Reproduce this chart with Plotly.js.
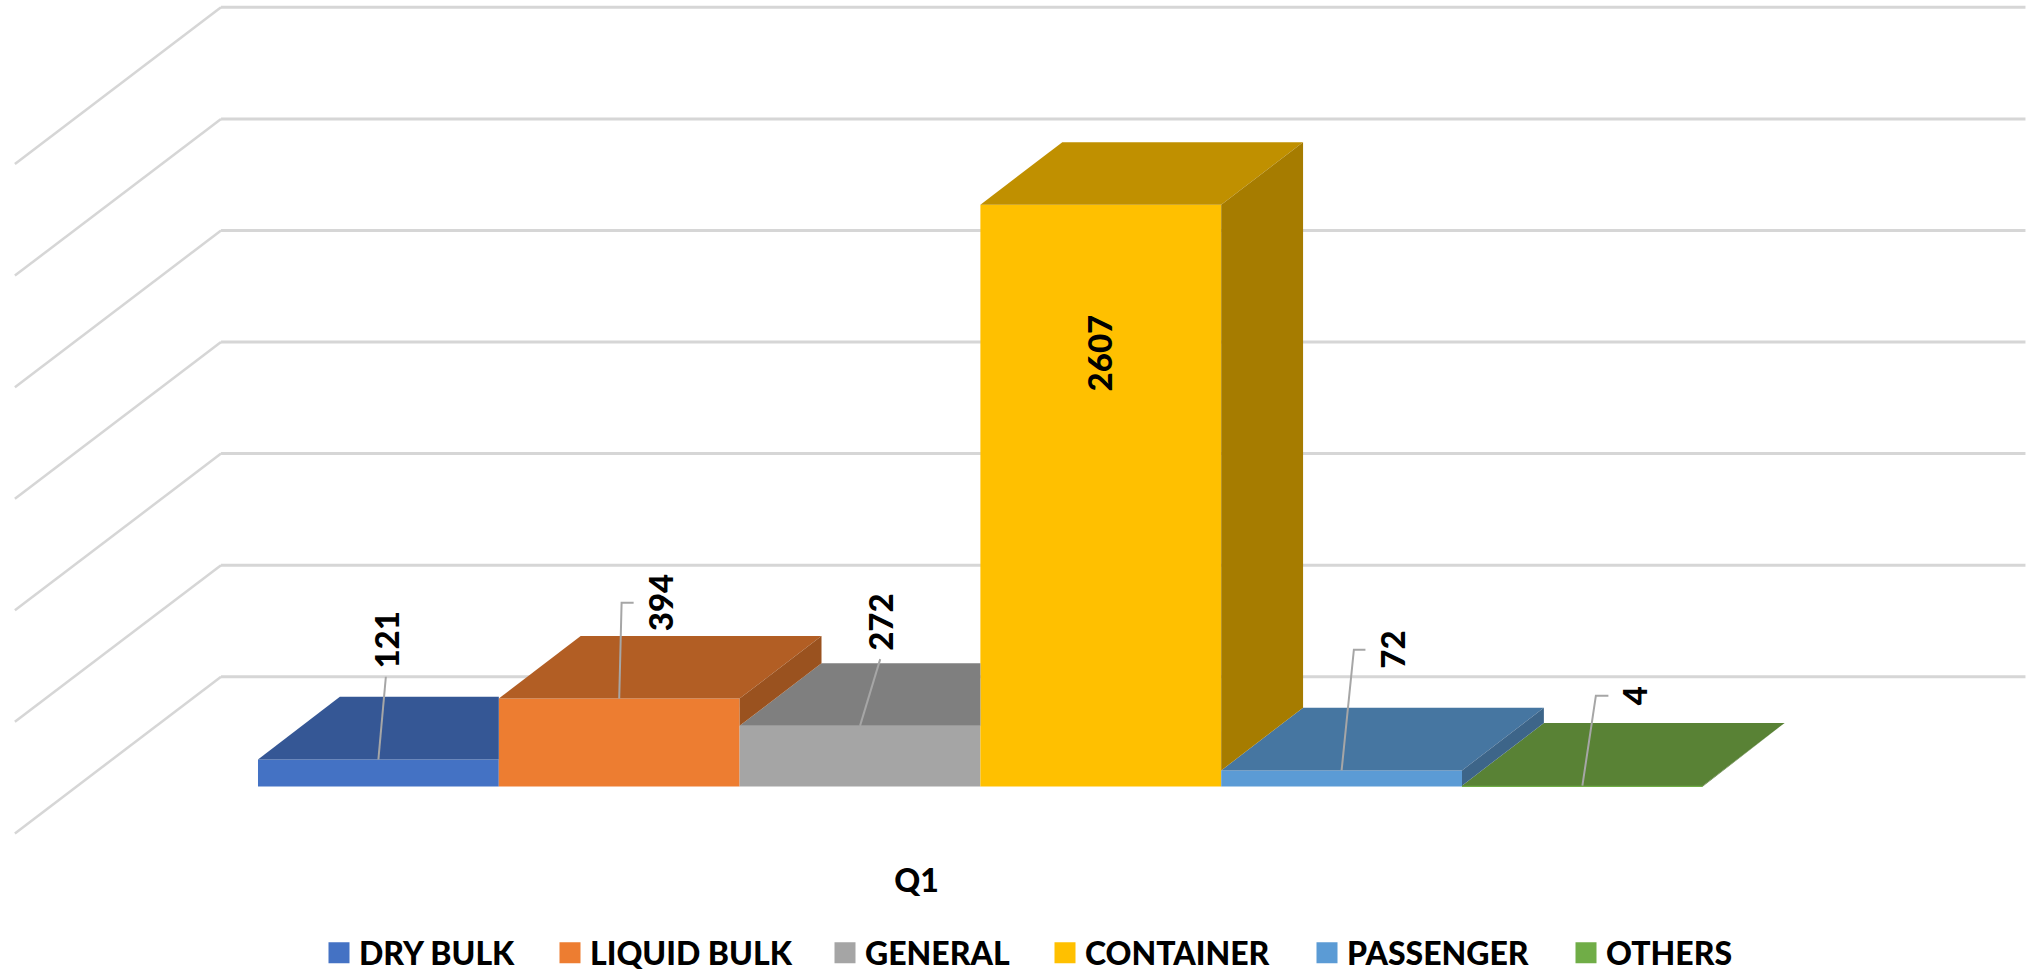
<!DOCTYPE html>
<html>
<head>
<meta charset="utf-8">
<script src="https://cdn.plot.ly/plotly-3.0.1.min.js"></script>
<style>html,body{margin:0;padding:0;background:#fff;overflow:hidden;height:971px}</style>
</head>
<body>
<div id="chart" style="width:2028px;height:1011px"></div>
<script>
// ---- data ----
const seriesNames = ['DRY BULK', 'LIQUID BULK', 'GENERAL', 'CONTAINER', 'PASSENGER', 'OTHERS'];
const seriesValues = [121, 394, 272, 2607, 72, 4];
const categoryLabels = ['Q1'];
const gridTicks = [0, 500, 1000, 1500, 2000, 2500, 3000];

// ---- styles ----
const frontColors = ['#4472C4', '#ED7D31', '#A5A5A5', '#FFC000', '#5B9BD5', '#70AD47'];
const topColors   = ['#355795', '#B25E24', '#7F7F7F', '#C09000', '#4676A1', '#598235'];
const sideColors  = ['#2E4C83', '#9A521F', '#6E6E6E', '#A67C00', '#3D6589', '#4D712E'];
const FONT = 'Lato, Carlito, "Open Sans", sans-serif';
const GRID = '#D6D6D6', LEADER = '#A6A6A6';

// ---- pseudo-3D scale: one x unit is one bar width, y is in chart values ----
// The drawing is a little taller than the window so the bottom legend is not pushed up.
const W = 2028, H = 1011;
const xRange = [-1.0714, 7.3505];
const yRange = [-1006, 3525];
const depthX = 0.34, depthY = 281;           // bar depth
const wallX = -0.1535, wallY = 492;          // back wall origin
const sideDX = -0.856, sideDY = -702;        // left wall run
const xEnd = 7.34;

// label placement, in axis units: leader start, label x, label y, leader points
const labelSpots = [
  [[0.5,  121], 0.531, 658,  [0.531, 492]],
  [[1.5,  394], 1.670, 822,  [1.510, 824, 1.560, 824]],
  [[2.5,  272], 2.582, 737,  [2.584, 571]],
  [[3.5, 2607], 3.491, 1944, null],
  [[4.5,   72], 4.708, 612,  [4.551, 613, 4.599, 613]],
  [[5.5,    4], 5.712, 407,  [5.556, 407, 5.608, 407]]
];

const n = seriesValues.length;
const traces = [];

// front faces: real bars, which also carry the legend
seriesValues.forEach((v, i) => {
  traces.push({
    type: 'bar', name: seriesNames[i], x: [i + 0.5], y: [v], width: [1],
    marker: {color: frontColors[i], line: {width: 0}},
    legend: i === 0 ? 'legend' : 'legend' + (i + 1),
    hoverinfo: 'name+y', showlegend: true
  });
});

// top and side faces, lowest bar first so that taller bars sit on top
const order = seriesValues.map((v, i) => i).sort((a, b) => seriesValues[a] - seriesValues[b]);
order.forEach(i => {
  const v = seriesValues[i];
  const next = i < n - 1 ? seriesValues[i + 1] : 0;
  const topXs = next > v
    ? [i, i + 1, i + 1, i + depthX, i]
    : [i, i + 1, i + 1 + depthX, i + depthX, i];
  traces.push({
    type: 'scatter', mode: 'lines', x: topXs,
    y: [v, v, v + depthY, v + depthY, v],
    fill: 'toself', fillcolor: topColors[i], line: {width: 0, color: topColors[i]},
    showlegend: false, hoverinfo: 'skip'
  });
  if (next < v) {
    traces.push({
      type: 'scatter', mode: 'lines',
      x: [i + 1, i + 1 + depthX, i + 1 + depthX, i + 1, i + 1],
      y: [v, v + depthY, next + depthY, next, v],
      fill: 'toself', fillcolor: sideColors[i], line: {width: 0, color: sideColors[i]},
      showlegend: false, hoverinfo: 'skip'
    });
  }
});

// wall gridlines, below everything
const shapes = [];
gridTicks.forEach(t => {
  const y = t + wallY;
  shapes.push({type: 'line', layer: 'below', xref: 'x', yref: 'y', x0: wallX, y0: y, x1: xEnd, y1: y,
               line: {color: GRID, width: 3}});
  shapes.push({type: 'line', layer: 'below', xref: 'x', yref: 'y', x0: wallX, y0: y,
               x1: wallX + sideDX, y1: y + sideDY, line: {color: GRID, width: 2.5}});
});

// data labels and their leader lines
const annotations = [];
labelSpots.forEach((s, i) => {
  annotations.push({
    xref: 'x', yref: 'y', x: s[1], y: s[2], text: String(seriesValues[i]),
    textangle: -90, showarrow: false, xanchor: 'center', yanchor: 'middle',
    font: {family: FONT, size: 33, color: '#000', weight: 900}
  });
  if (s[3]) {
    let path = 'M ' + s[0][0] + ' ' + s[0][1];
    for (let k = 0; k < s[3].length; k += 2) path += ' L ' + s[3][k] + ' ' + s[3][k + 1];
    shapes.push({type: 'path', layer: 'above', xref: 'x', yref: 'y', path: path,
                 line: {color: LEADER, width: 2}});
  }
});

// one legend per series so each entry sits where the reference has it
const legendTextLeft = [359, 590, 865, 1085, 1347, 1606];
const layout = {
  width: W, height: H, autosize: false,
  margin: {l: 0, r: 0, t: 0, b: 0, pad: 0},
  paper_bgcolor: '#fff', plot_bgcolor: '#fff',
  barmode: 'overlay', showlegend: true,
  xaxis: {
    range: xRange, anchor: 'free', position: 0.1503,
    tickmode: 'array', tickvals: [2.735], ticktext: categoryLabels,
    tickfont: {family: FONT, size: 32, color: '#000', weight: 900},
    showgrid: false, zeroline: false, showline: false, ticks: '', fixedrange: true
  },
  yaxis: {range: yRange, visible: false, fixedrange: true},
  shapes: shapes, annotations: annotations
};
seriesNames.forEach((name, i) => {
  layout[i === 0 ? 'legend' : 'legend' + (i + 1)] = {
    x: (legendTextLeft[i] - 40) / W, xanchor: 'left',
    y: (H - 953) / H, yanchor: 'middle',
    bgcolor: 'rgba(0,0,0,0)', borderwidth: 0, itemclick: false, itemdoubleclick: false,
    font: {family: FONT, size: 32, color: '#000', weight: 900}
  };
});

Plotly.newPlot('chart', traces, layout, {displayModeBar: false, responsive: false}).then(() => {
  document.querySelectorAll('.legendpoints path').forEach(p => {
    const t = p.getAttribute('transform') || '';
    p.setAttribute('transform', t + ' scale(1.75)');
  });
});
</script>
</body>
</html>
